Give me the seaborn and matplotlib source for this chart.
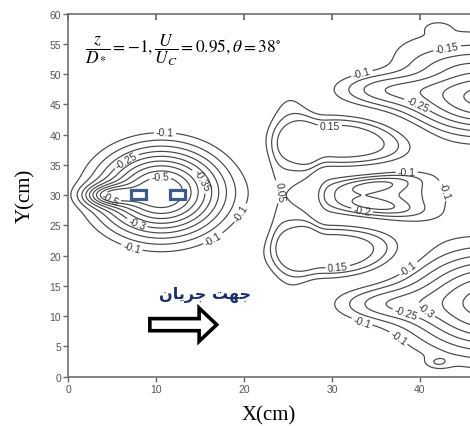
import numpy as np
import pandas as pd
import seaborn as sns
import matplotlib
matplotlib.use("Agg")
import matplotlib.pyplot as plt
from matplotlib.patches import FancyArrow, Rectangle

# ---- flow-field features (cm, value, widths, tilt, shape)
#            Lmain Lcusp strip  P1    P2    Mbase Mup   Mlow  R1    R1top T1    R2    T2    ring1 ring2
feat_x     = [10.6, 4.5, 25.5, 31.8, 30.8, 35.0, 35.0, 35.0, 47.5, 43.0, 35.0, 48.0, 35.0, 42.0, 42.0]
feat_y     = [30.5, 30.0, 31.0, 38.6, 21.0, 30.0, 31.8, 28.2, 46.2, 55.0, 47.5, 12.2, 12.0, 57.8, 2.3]
feat_val   = [-0.56, -0.25, 0.12, 0.21, 0.21, -0.20, -0.10, -0.10, -0.42, -0.08, -0.16, -0.43, -0.15, -0.06, -0.07]
feat_sx    = [7.2, 2.8, 3.0, 7.8, 7.6, 9.0, 5.0, 5.0, 9.5, 9.0, 6.0, 10.0, 6.0, 1.4, 1.4]
feat_sy    = [7.5, 1.7, 16.0, 4.6, 4.6, 5.0, 1.4, 1.4, 6.5, 4.5, 3.0, 9.0, 3.0, 1.0, 1.0]
feat_tilt  = [0, 0, 0, -3, 3, 0, 10, -10, 0, 0, 0, 0, 0, 0, 0]
feat_shape = [1.0, 1.0, 2.0, 1.6, 1.6, 1.0, 1.0, 1.0, 1.0, 2.0, 1.0, 1.0, 1.0, 1.0, 1.0]

levels = [-0.5, -0.45, -0.4, -0.35, -0.3, -0.25, -0.2, -0.15, -0.1, 0.05, 0.1, 0.15]

label_x = [11.0, 6.5, 10.5, 15.0, 4.8, 7.8, 7.3, 16.5, 19.5, 29.8, 24.3, 38.5, 33.4, 42.6, 30.6,
           33.2, 43.1, 39.6, 38.9, 41.1, 38.3, 33.5, 36.9]
label_y = [39.8, 36.0, 31.7, 32.3, 29.4, 25.2, 21.6, 22.8, 27.2, 40.4, 30.7, 34.0, 27.4, 30.7, 19.1,
           51.2, 54.2, 44.8, 17.5, 12.0, 10.0, 9.5, 5.1]

x_ticks = [0, 10, 20, 30, 40]
y_ticks = [0, 5, 10, 15, 20, 25, 30, 35, 40, 45, 50, 55, 60]

feats = pd.DataFrame(dict(x=feat_x, y=feat_y, val=feat_val, sx=feat_sx, sy=feat_sy,
                          tilt=feat_tilt, shape=feat_shape))

gx = np.linspace(0, 46, 461)
gy = np.linspace(0, 60, 601)
X, Y = np.meshgrid(gx, gy)
Z = np.zeros_like(X)
for r in feats.itertuples():
    t = np.deg2rad(r.tilt)
    dx, dy = X - r.x, Y - r.y
    u = dx * np.cos(t) + dy * np.sin(t)
    v = -dx * np.sin(t) + dy * np.cos(t)
    q = (u / r.sx) ** 2 + (v / r.sy) ** 2
    Z += r.val * np.exp(-q ** r.shape)

sns.set_theme(style="ticks")
plt.rcParams["font.family"] = ["Liberation Sans", "DejaVu Sans"]
plt.rcParams["mathtext.fontset"] = "stix"

fig = plt.figure(figsize=(4.70, 4.27), dpi=100)
ax = fig.add_axes([68 / 470, 49.3 / 427, 1 - 68 / 470, 363 / 427])

cs = ax.contour(X, Y, Z, levels=levels, colors="#474747", linewidths=0.85,
                linestyles="solid")
txts = ax.clabel(cs, manual=list(zip(label_x, label_y)), fmt=lambda v: f"{v:g}",
                 fontsize=7.5, inline=True, inline_spacing=2)
for t in txts:
    t.set_color("#333333")

# piers
for x0 in [7.2, 11.6]:
    ax.add_patch(Rectangle((x0, 29.45), 1.65, 1.35, fill=True, fc="white",
                           ec="#3d5b8c", lw=2.3, zorder=5))

# flow direction arrow + Persian caption
ax.add_patch(FancyArrow(9.3, 8.6, 7.6, 0, width=2.0, head_width=5.5, head_length=2.0,
                        length_includes_head=True, fc="white", ec="black", lw=2.6,
                        joinstyle="miter", zorder=5))
persian = "\uFEE5\uFE8E\uFBFE\uFEAE\uFE9F \uFE96\uFEEC\uFE9F"  # جهت جریان (shaped)
ax.text(15.6, 13.7, persian, ha="center", va="center", fontsize=11.5,
        fontweight="bold", color="#1c2f6c", family=["DejaVu Sans"])

ax.text(1.9, 54.2, r"$\dfrac{z}{D_*}=-1,\dfrac{U}{U_C}=0.95,\theta=38^{\circ}$",
        ha="left", va="center", fontsize=12.5, color="black")

ax.set_xlim(0, 402 / 8.8)
ax.set_ylim(0, 60)
ax.set_xticks(x_ticks)
ax.set_yticks(y_ticks)
ax.tick_params(axis="both", labelsize=7.5, labelcolor="#555555", color="#666666",
               length=3.5, width=1.0, pad=1.5)
sec = ax.secondary_xaxis("top")
sec.set_xticks(x_ticks)
sec.tick_params(direction="in", length=4, color="#666666", labeltop=False)
sec.spines["top"].set_visible(False)
for s in ["left", "bottom", "top"]:
    ax.spines[s].set_color("#707070")
    ax.spines[s].set_linewidth(1.2)
ax.spines["right"].set_visible(False)

ax.set_xlabel("X(cm)", family=["Liberation Serif"], fontsize=15, color="black", labelpad=8)
ax.set_ylabel("Y(cm)", family=["Liberation Serif"], fontsize=15, color="black", labelpad=10)

fig.savefig("out.png", dpi=100, facecolor="white")
